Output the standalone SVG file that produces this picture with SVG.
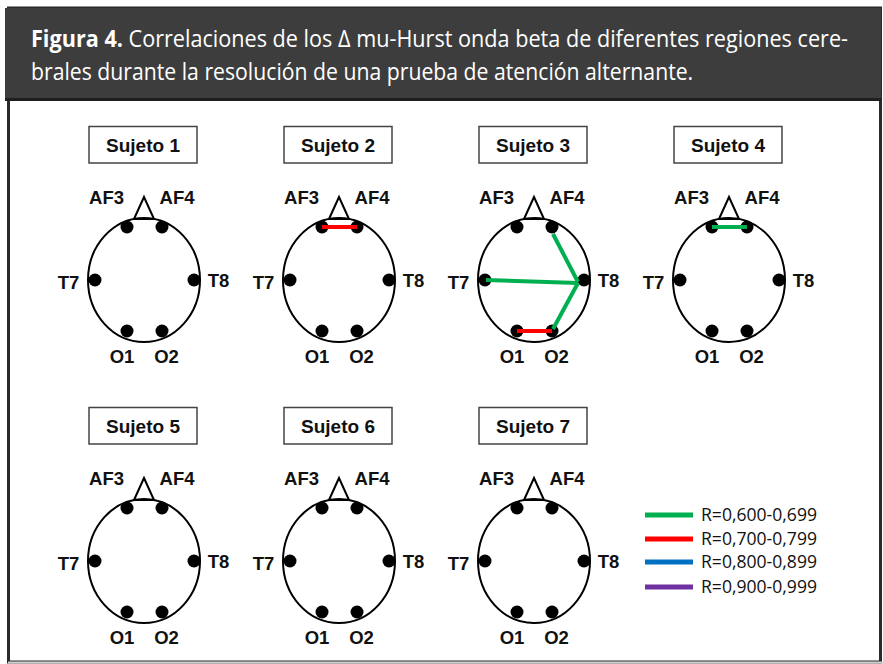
<svg xmlns="http://www.w3.org/2000/svg" width="883" height="664" viewBox="0 0 883 664">
<style>
.hdr{font-family:"Open Sans","Liberation Sans",sans-serif;font-size:24px;fill:#ffffff}
.box{fill:#ffffff;stroke:#444;stroke-width:1.5}
.ttl{font-family:"Liberation Sans",Arial,sans-serif;font-weight:bold;font-size:19px;fill:#111;text-anchor:middle}
.head{fill:none;stroke:#000;stroke-width:2}
.lbl{font-family:"Liberation Sans",Arial,sans-serif;font-weight:bold;font-size:18.5px;fill:#111;text-anchor:middle}
.leg{font-family:"Open Sans","Liberation Sans",sans-serif;font-size:18px;fill:#111}
.g{stroke:#00b050;stroke-width:4;fill:none}
.r{stroke:#ff0000;stroke-width:4;fill:none}
</style>
<defs>
<g id="headbase">
<polygon class="head" points="134,219 144,197 154,219"/>
<ellipse class="head" cx="144" cy="280" rx="56" ry="62"/>
<circle cx="127" cy="227" r="6.5"/>
<circle cx="162" cy="227" r="6.5"/>
<circle cx="95" cy="280" r="6.5"/>
<circle cx="194" cy="280" r="6.5"/>
<circle cx="127" cy="331" r="6.5"/>
<circle cx="162" cy="331" r="6.5"/>
<text class="lbl" x="106.5" y="204">AF3</text>
<text class="lbl" x="177" y="204">AF4</text>
<text class="lbl" x="68.5" y="289">T7</text>
<text class="lbl" x="218.5" y="287">T8</text>
<text class="lbl" x="122" y="363">O1</text>
<text class="lbl" x="166.5" y="363">O2</text>
<rect class="box" x="89" y="126.5" width="108" height="36.5"/>
</g>
</defs>
<rect x="0" y="0" width="883" height="664" fill="#ffffff"/>
<rect x="8.5" y="8" width="872" height="654" fill="#ffffff" stroke="#2a2a2a" stroke-width="3"/>
<line x1="8" y1="662.5" x2="883" y2="662.5" stroke="#cfcfcf" stroke-width="2"/>
<rect x="5" y="8" width="876" height="91" fill="#3d3d3d"/>
<line x1="5" y1="99.5" x2="881" y2="99.5" stroke="#1f1f1f" stroke-width="3"/>
<text class="hdr" transform="translate(31,47) scale(0.86,1)" x="0" y="0" textLength="950" lengthAdjust="spacingAndGlyphs"><tspan font-weight="bold">Figura 4.</tspan> Correlaciones de los Δ mu-Hurst onda beta de diferentes regiones cere-</text>
<text class="hdr" transform="translate(31,80) scale(0.86,1)" x="0" y="0" textLength="770" lengthAdjust="spacingAndGlyphs">brales durante la resolución de una prueba de atención alternante.</text>

<g id="sujeto1"><use href="#headbase"/><text class="ttl" x="143" y="152" textLength="74" lengthAdjust="spacingAndGlyphs">Sujeto 1</text></g>
<g id="sujeto2" transform="translate(195,0)"><use href="#headbase"/><text class="ttl" x="143" y="152" textLength="74" lengthAdjust="spacingAndGlyphs">Sujeto 2</text></g>
<g id="sujeto3" transform="translate(390,0)"><use href="#headbase"/><text class="ttl" x="143" y="152" textLength="74" lengthAdjust="spacingAndGlyphs">Sujeto 3</text></g>
<g id="sujeto4" transform="translate(585,0)"><use href="#headbase"/><text class="ttl" x="143" y="152" textLength="74" lengthAdjust="spacingAndGlyphs">Sujeto 4</text></g>
<g id="sujeto5" transform="translate(0,281)"><use href="#headbase"/><text class="ttl" x="143" y="152" textLength="74" lengthAdjust="spacingAndGlyphs">Sujeto 5</text></g>
<g id="sujeto6" transform="translate(195,281)"><use href="#headbase"/><text class="ttl" x="143" y="152" textLength="74" lengthAdjust="spacingAndGlyphs">Sujeto 6</text></g>
<g id="sujeto7" transform="translate(390,281)"><use href="#headbase"/><text class="ttl" x="143" y="152" textLength="74" lengthAdjust="spacingAndGlyphs">Sujeto 7</text></g>

<g id="connectors">
<line class="r" x1="322" y1="227" x2="357" y2="227"/>
<line class="g" x1="553" y1="234" x2="578" y2="282"/>
<line class="g" x1="486" y1="280" x2="578" y2="283"/>
<line class="g" x1="578" y1="283" x2="553" y2="329"/>
<line class="r" x1="517" y1="331" x2="552" y2="331"/>
<line class="g" x1="712" y1="227" x2="747" y2="227"/>
</g>

<g id="legend">
<line x1="645" y1="515" x2="693" y2="515" stroke="#00b050" stroke-width="5"/>
<line x1="645" y1="539" x2="693" y2="539" stroke="#ff0000" stroke-width="5"/>
<line x1="645" y1="562" x2="693" y2="562" stroke="#0070c0" stroke-width="5"/>
<line x1="645" y1="587" x2="693" y2="587" stroke="#7030a0" stroke-width="5"/>
<text class="leg" x="701" y="521" textLength="116" lengthAdjust="spacingAndGlyphs">R=0,600-0,699</text>
<text class="leg" x="701" y="545" textLength="116" lengthAdjust="spacingAndGlyphs">R=0,700-0,799</text>
<text class="leg" x="701" y="568" textLength="116" lengthAdjust="spacingAndGlyphs">R=0,800-0,899</text>
<text class="leg" x="701" y="593" textLength="116" lengthAdjust="spacingAndGlyphs">R=0,900-0,999</text>
</g>
</svg>
